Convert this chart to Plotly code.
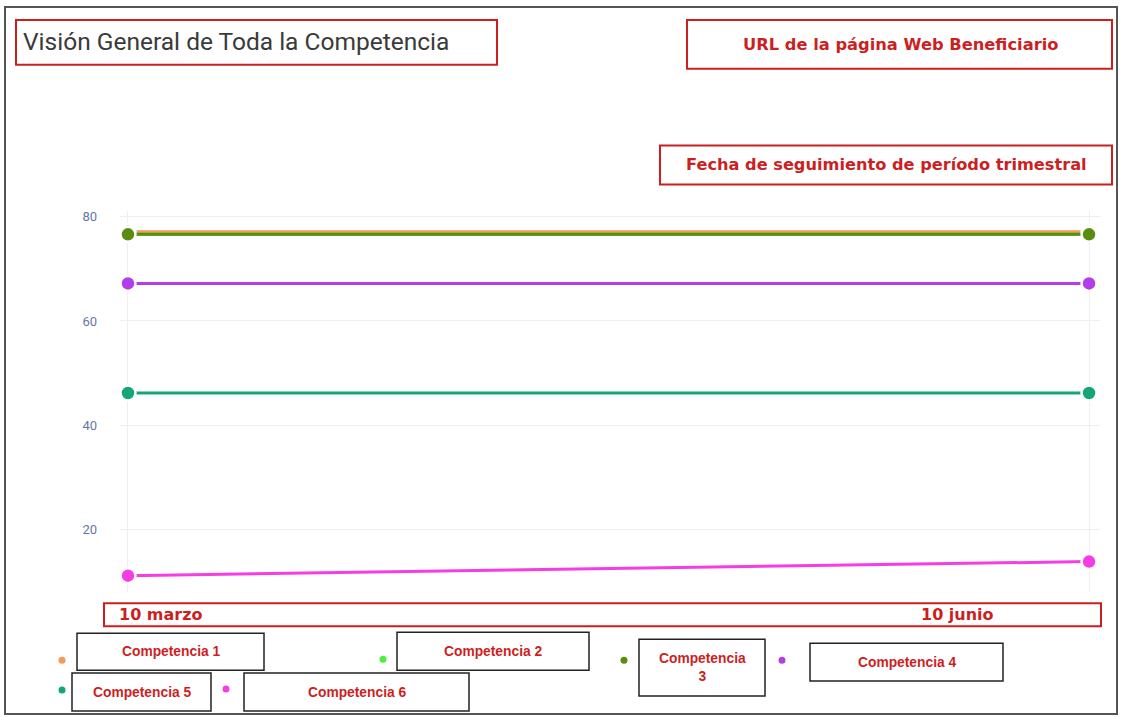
import plotly.graph_objects as go

W, H = 1121, 717

# data
fechas = ["10 marzo", "10 junio"]
competencias = ["Competencia 1", "Competencia 2", "Competencia 3",
                "Competencia 4", "Competencia 5", "Competencia 6"]
comp_1 = [77.1, 77.1]
comp_2 = [76.6, 76.6]
comp_3 = [76.6, 76.6]
comp_4 = [67.2, 67.2]
comp_5 = [46.2, 46.2]
comp_6 = [11.2, 13.9]
y_ticks = [20, 40, 60, 80]

series = [comp_1, comp_2, comp_3, comp_4, comp_5, comp_6]
colores = ["#f59a55", "#4cef3c", "#5b8c12", "#b33de6", "#16a673", "#f53de3"]

RED = "#cc1f1f"


def px(x):
    return x / W


def py(y):
    return 1 - y / H


fig = go.Figure()
for nombre, vals, col in zip(competencias, series, colores):
    fig.add_trace(go.Scatter(
        x=fechas, y=vals, name=nombre, mode="lines+markers",
        line=dict(color=col, width=3),
        marker=dict(color=col, size=15, line=dict(color="white", width=2.5)),
        showlegend=False,
    ))

shapes = []
annotations = []


def box(x0, y0, x1, y1, color, width=2):
    shapes.append(dict(type="rect", xref="paper", yref="paper",
                       x0=px(x0), x1=px(x1), y0=py(y1), y1=py(y0),
                       line=dict(color=color, width=width)))


def label(x, y, text, font, anchor="center"):
    annotations.append(dict(x=px(x), y=py(y), xref="paper", yref="paper",
                            xanchor=anchor, yanchor="middle", showarrow=False,
                            text=text, font=font))


# outer frame
box(5, 5, 1117, 714, "#555555", 2)

# title + header boxes
box(16, 18, 497, 63, RED)
label(21, 40, "Visión General de Toda la Competencia",
      dict(family="Roboto", size=24.5, color="#3a3a3a"), "left")
box(687, 18, 1112, 67, RED)
label(900, 43, "<b>URL de la página Web Beneficiario</b>",
      dict(family="DejaVu Sans", size=16.3, color=RED))
box(660, 144, 1112, 183, RED)
label(886, 163, "<b>Fecha de seguimiento de período trimestral</b>",
      dict(family="DejaVu Sans", size=16.2, color=RED))

# x labels box
box(104, 603, 1101, 626, RED)
for txt, xx in zip(fechas, [117, 919]):
    label(xx, 614, "<b>" + txt + "</b>",
          dict(family="DejaVu Sans", size=16, color=RED), "left")

# custom legend
leg_dots = [(62, 660), (383, 659), (624, 660), (782, 660), (62, 690), (226, 689)]
leg_boxes = [(77, 633, 264, 670), (397, 632, 589, 670), (639, 639, 765, 696),
             (810, 643, 1003, 681), (72, 673, 211, 711), (244, 673, 469, 711)]
for nombre, col, (dx, dy), (x0, y0, x1, y1) in zip(competencias, colores, leg_dots, leg_boxes):
    shapes.append(dict(type="circle", xref="paper", yref="paper",
                       xsizemode="pixel", ysizemode="pixel",
                       xanchor=px(dx), yanchor=py(dy),
                       x0=-3.5, x1=3.5, y0=-3.5, y1=3.5,
                       fillcolor=col, line=dict(width=0)))
    box(x0, y0, x1, y1, "#222222", 1.5)
    txt = nombre
    if nombre == "Competencia 3":
        txt = "Competencia<br>3"
    label((x0 + x1) / 2, (y0 + y1) / 2, "<b>" + txt + "</b>",
          dict(family="Liberation Sans", size=13.8, color=RED))

fig.update_layout(
    width=W, height=H,
    margin=dict(l=0, r=0, t=0, b=0),
    paper_bgcolor="white", plot_bgcolor="white",
    shapes=shapes, annotations=annotations,
    xaxis=dict(domain=[px(120), px(1100)], type="category",
               range=[-0.0083, 1.0114], showticklabels=False,
               showgrid=True, gridcolor="#efefef", gridwidth=1,
               zeroline=False, showline=False, ticks=""),
    yaxis=dict(domain=[py(592), py(210)], range=[8, 81],
               tickvals=y_ticks, showgrid=True, gridcolor="#efefef",
               zeroline=False, showline=False, ticklabelstandoff=22,
               tickfont=dict(family="Roboto", size=13, color="#6477a8")),
)

fig.write_html("out.html", config={"displayModeBar": False},
               post_script="document.body.style.margin='0';")
